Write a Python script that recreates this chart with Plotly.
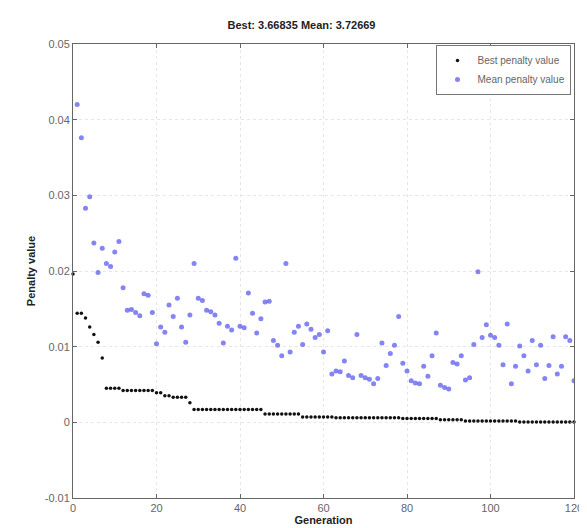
import plotly.graph_objects as go

generations_best = list(range(0, 121))
best_values = [
    0.0196,
    0.0144, 0.0144, 0.0138, 0.0126, 0.0116, 0.0106, 0.0085,
    0.0045, 0.0045, 0.0045, 0.0045,
    0.0042, 0.0042, 0.0042, 0.0042, 0.0042, 0.0042, 0.0042, 0.0042,
    0.0039, 0.0039,
    0.0035, 0.0035,
    0.0033, 0.0033, 0.0033, 0.0033,
    0.0026,
    0.0017, 0.0017, 0.0017, 0.0017, 0.0017, 0.0017, 0.0017, 0.0017, 0.0017,
    0.0017, 0.0017, 0.0017, 0.0017, 0.0017, 0.0017, 0.0017, 0.0017,
    0.0011, 0.0011, 0.0011, 0.0011, 0.0011, 0.0011, 0.0011, 0.0011, 0.0011,
    0.0007, 0.0007, 0.0007, 0.0007, 0.0007, 0.0007, 0.0007, 0.0007,
    0.0006, 0.0006, 0.0006, 0.0006, 0.0006, 0.0006, 0.0006, 0.0006,
    0.0006, 0.0006, 0.0006, 0.0006, 0.0006, 0.0006, 0.0006, 0.0006,
    0.0005, 0.0005, 0.0005, 0.0005, 0.0005, 0.0005, 0.0005, 0.0005, 0.0005,
    0.00035, 0.00035, 0.00035, 0.00035, 0.00035, 0.00035,
    0.00017, 0.00017, 0.00017, 0.00017, 0.00017, 0.00017, 0.00017,
    0.00017, 0.00017, 0.00017, 0.00017, 0.00017, 0.00017,
    0.00005, 0.00005, 0.00005, 0.00005, 0.00005, 0.00005, 0.00005,
    0.00005, 0.00005, 0.00005, 0.00005, 0.00005, 0.00005, 0.00005,
]

generations_mean = list(range(1, 121))
mean_values = [
    0.0420, 0.0376, 0.0283, 0.0298, 0.0237, 0.0198, 0.0230, 0.0210, 0.0206, 0.0225,
    0.0239, 0.0178, 0.0148, 0.0149, 0.0145, 0.0141, 0.0170, 0.0168, 0.0145, 0.0104,
    0.0126, 0.0119, 0.0155, 0.0140, 0.0164, 0.0126, 0.0106, 0.0142, 0.0210, 0.0164,
    0.0161, 0.0148, 0.0146, 0.0142, 0.0131, 0.0105, 0.0127, 0.0122, 0.0217, 0.0127,
    0.0125, 0.0171, 0.0144, 0.0118, 0.0137, 0.0159, 0.0160, 0.0108, 0.0102, 0.0088,
    0.0210, 0.0093, 0.0119, 0.0127, 0.0103, 0.0130, 0.0123, 0.0112, 0.0116, 0.0093,
    0.0121, 0.0064, 0.0068, 0.0067, 0.0081, 0.0062, 0.0059, 0.0116, 0.0062, 0.0059,
    0.0057, 0.0051, 0.0058, 0.0105, 0.0075, 0.0091, 0.0102, 0.0140, 0.0078, 0.0068,
    0.0055, 0.0052, 0.0051, 0.0074, 0.0061, 0.0088, 0.0118, 0.0049, 0.0046, 0.0044,
    0.0079, 0.0077, 0.0088, 0.0056, 0.0059, 0.0103, 0.0199, 0.0112, 0.0129, 0.0115,
    0.0112, 0.0102, 0.0076, 0.0130, 0.0051, 0.0074, 0.0101, 0.0088, 0.0068, 0.0108,
    0.0076, 0.0102, 0.0058, 0.0075, 0.0113, 0.0064, 0.0074, 0.0113, 0.0108, 0.0055,
]

x_tick_vals = [0, 20, 40, 60, 80, 100, 120]
x_tick_text = ["0", "20", "40", "60", "80", "100", "120"]
y_tick_vals = [-0.01, 0, 0.01, 0.02, 0.03, 0.04, 0.05]
y_tick_text = ["-0.01", "0", "0.01", "0.02", "0.03", "0.04", "0.05"]

title_text = "Best: 3.66835 Mean: 3.72669"
best_name = "Best penalty value"
mean_name = "Mean penalty value"

FONT = "Arial, Liberation Sans, sans-serif"

fig = go.Figure()
fig.add_trace(go.Scatter(
    x=generations_best, y=best_values, mode="markers", name=best_name,
    cliponaxis=False,
    marker=dict(symbol="circle", size=3.5, color="#111111"),
))
fig.add_trace(go.Scatter(
    x=generations_mean, y=mean_values, mode="markers", name=mean_name,
    marker=dict(symbol="circle", size=5, color="rgba(80,80,240,0.7)",
                line=dict(width=0)),
))

axis_common = dict(
    showline=True, linecolor="#666666", linewidth=1, mirror="ticks",
    ticks="inside", ticklen=4, tickcolor="#666666",
    showgrid=True, gridcolor="#e6e6e6", gridwidth=1, griddash="dot",
    zeroline=False,
    tickfont=dict(family=FONT, size=11, color="#666666"),
)

fig.update_layout(
    width=587, height=528,
    margin=dict(l=65, r=14, t=36, b=35),
    paper_bgcolor="white", plot_bgcolor="white",
    title=dict(text="<b>" + title_text + "</b>", x=0.5, xanchor="center",
               y=1 - 17 / 528, yanchor="middle",
               font=dict(family=FONT, size=11, color="#222222")),
    xaxis=dict(range=[0, 120], tickvals=x_tick_vals, ticktext=x_tick_text,
               title=dict(text="<b>Generation</b>", standoff=2,
                          font=dict(family=FONT, size=11, color="#222222")),
               **axis_common),
    yaxis=dict(range=[-0.01, 0.05], tickvals=y_tick_vals, ticktext=y_tick_text,
               title=dict(text="<b>Penalty value</b>", standoff=6,
                          font=dict(family=FONT, size=11, color="#222222")),
               **axis_common),
    legend=dict(x=0.995, y=0.998, xanchor="right", yanchor="top",
                bgcolor="white", bordercolor="#777777", borderwidth=1,
                font=dict(family=FONT, size=10, color="#666666"),
                itemsizing="trace", tracegroupgap=0),
    showlegend=True,
)

fig.write_html("out.html")
